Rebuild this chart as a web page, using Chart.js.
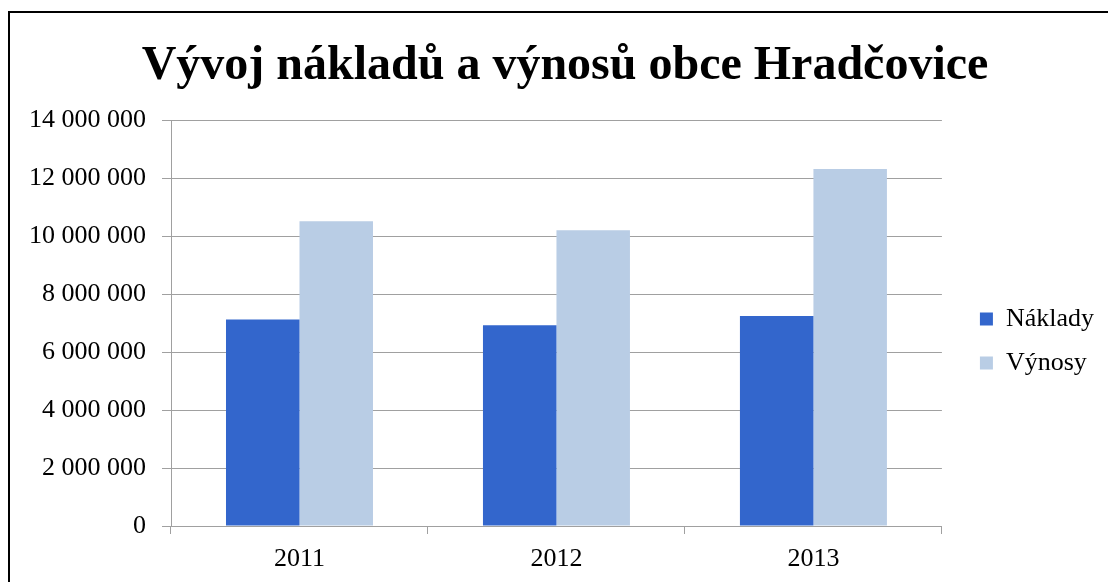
<!DOCTYPE html>
<html lang="cs">
<head>
    <meta charset="UTF-8">
    <title>Vývoj nákladů a výnosů obce Hradčovice</title>
    <script src="https://cdn.jsdelivr.net/npm/chart.js"></script>
    <style>
        html, body { margin: 0; padding: 0; background: #fff; overflow: hidden; }
        #wrap { position: relative; width: 1108px; height: 582px; }
        #frame { position: absolute; left: 8px; top: 11px; right: -10px; bottom: -10px;
                 border-top: 2px solid #000; border-left: 2px solid #000; pointer-events: none; }
        canvas { position: absolute; left: 0; top: 0; }
    </style>
</head>
<body>
    <div id="wrap">
        <canvas id="chart" width="1108" height="582"></canvas>
        <div id="frame"></div>
    </div>

    <script>
        const years = ['2011', '2012', '2013'];
        const naklady = [7130000, 6930000, 7250000];
        const vynosy = [10520000, 10210000, 12330000];

        const serif = '"Liberation Serif", "Times New Roman", serif';

        // thousands with a space, like 14 000 000
        function fmt(v) {
            return String(v).replace(/\B(?=(\d{3})+(?!\d))/g, '\u00a0');
        }

        // legend sits a bit lower than the centre in the original
        const legendNudge = {
            id: 'legendNudge',
            afterLayout(chart) {
                const lg = chart.legend;
                lg.top += 44;
                lg.bottom += 44;
            }
        };

        const ctx = document.getElementById('chart').getContext('2d');
        const chart = new Chart(ctx, {
            type: 'bar',
            data: {
                labels: years,
                datasets: [{
                    label: 'Náklady',
                    data: naklady,
                    backgroundColor: '#3366CC',
                    borderWidth: 0
                }, {
                    label: 'Výnosy',
                    data: vynosy,
                    backgroundColor: '#B9CDE5',
                    borderWidth: 0
                }]
            },
            options: {
                responsive: false,
                animation: false,
                layout: { padding: { top: 12, left: 26, right: 4, bottom: 0 } },
                datasets: { bar: { barPercentage: 1, categoryPercentage: 0.572 } },
                plugins: {
                    title: {
                        display: true,
                        text: 'Vývoj nákladů a výnosů obce Hradčovice',
                        color: '#000',
                        font: { family: serif, size: 48, weight: 'bold' },
                        padding: { top: 26, bottom: 25 }
                    },
                    legend: {
                        position: 'right',
                        labels: {
                            color: '#000',
                            font: { family: serif, size: 26 },
                            boxWidth: 13,
                            boxHeight: 13,
                            padding: 18
                        }
                    },
                    tooltip: { enabled: false }
                },
                scales: {
                    x: {
                        grid: { display: true, drawOnChartArea: false, color: '#A0A0A0', tickLength: 8, offset: true },
                        border: { color: '#A0A0A0' },
                        ticks: { color: '#000', font: { family: serif, size: 26 }, padding: 10 },
                        afterFit: s => { s.height = 56; }
                    },
                    y: {
                        min: 0,
                        max: 14000000,
                        grid: { color: '#A0A0A0', tickLength: 9 },
                        border: { color: '#A0A0A0' },
                        ticks: {
                            stepSize: 2000000,
                            color: '#000',
                            font: { family: serif, size: 26 },
                            padding: 16,
                            callback: v => fmt(v)
                        },
                        afterFit: s => { s.width = 145; }
                    },
                    // empty room between plot and legend
                    gap: {
                        position: 'right',
                        type: 'linear',
                        grid: { display: false },
                        border: { display: false },
                        ticks: { display: false },
                        afterFit: s => { s.width = 20; }
                    }
                }
            },
            plugins: [legendNudge]
        });
    </script>
</body>
</html>
